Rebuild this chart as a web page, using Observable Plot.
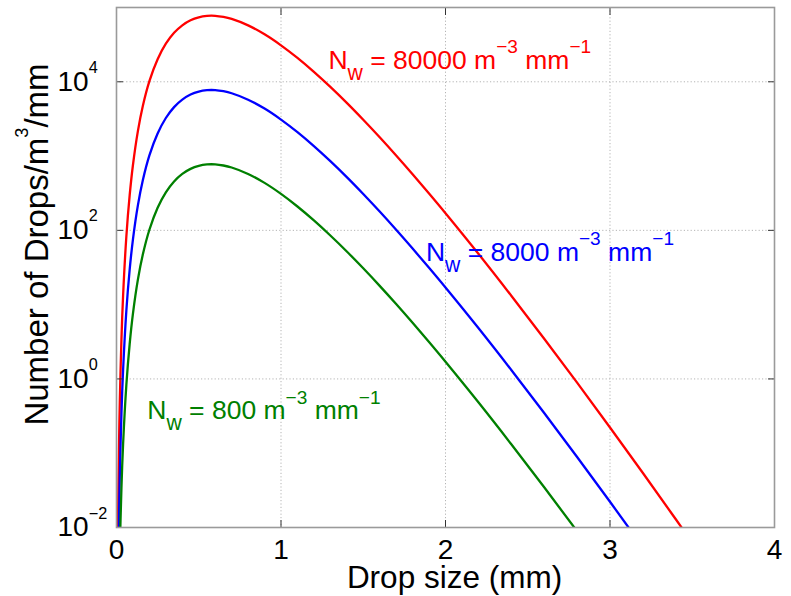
<!DOCTYPE html>
<html>
<head>
<meta charset="utf-8">
<script src="https://cdn.jsdelivr.net/npm/d3@7"></script>
<script src="https://cdn.jsdelivr.net/npm/@observablehq/plot@0.6"></script>
<style>
  html, body { margin: 0; padding: 0; background: #fff; }
</style>
</head>
<body>
<div id="chart"></div>
<script>
// ---- data ----
const dropSize = [0.005, 0.01, 0.015, 0.02, 0.03, 0.04, 0.06, 0.08, 0.1, 0.13, 0.16, 0.2, 0.25, 0.3, 0.35, 0.4, 0.45, 0.5, 0.55, 0.6, 0.65, 0.7, 0.8, 0.9, 1.0, 1.1, 1.2, 1.3, 1.4, 1.5, 1.6, 1.7, 1.8, 1.9, 2.0, 2.2, 2.4, 2.6, 2.8, 3.0, 3.2, 3.4, 3.6];
const nw80000 = [5.4e-4, 0.0165, 0.120, 0.485, 3.38, 13.1, 83.4, 295, 758, 2170, 4720, 10190, 20150, 32540, 45600, 57550, 67260, 73840, 77090, 77270, 74650, 70150, 57440, 43550, 30970, 20960, 13610, 8530, 5200, 3083, 1790, 1018, 569, 313, 170, 48.4, 13.2, 3.48, 0.891, 0.222, 0.0542, 0.0129, 0.00304];
const nw8000 = [5.4e-5, 0.00165, 0.0120, 0.0485, 0.338, 1.31, 8.34, 29.5, 75.8, 217, 472, 1019, 2015, 3254, 4560, 5755, 6726, 7384, 7709, 7727, 7465, 7015, 5744, 4355, 3097, 2096, 1361, 853, 520, 308.3, 179, 101.8, 56.9, 31.3, 17.0, 4.84, 1.32, 0.348, 0.0891, 0.0222, 0.00542, 0.00129, 0.000304];
const nw800 = [5.4e-6, 0.000165, 0.00120, 0.00485, 0.0338, 0.131, 0.834, 2.95, 7.58, 21.7, 47.2, 101.9, 201.5, 325.4, 456, 575.5, 672.6, 738.4, 770.9, 772.7, 746.5, 701.5, 574.4, 435.5, 309.7, 209.6, 136.1, 85.3, 52.0, 30.83, 17.9, 10.18, 5.69, 3.13, 1.70, 0.484, 0.132, 0.0348, 0.00891, 0.00222, 0.000542, 0.000129, 0.0000304];

const seriesNames = ["Nw80000", "Nw8000", "Nw800"];
const seriesColors = ["#ff0000", "#0000ff", "#008000"];
const seriesValues = [nw80000, nw8000, nw800];

const labelTexts = ["N_{w} = 80000 m^{−3} mm^{−1}", "N_{w} = 8000 m^{−3} mm^{−1}", "N_{w} = 800 m^{−3} mm^{−1}"];
const labelDrop = [1.288, 1.881, 0.187];
const labelCount = [14960, 39.0, 0.288];

const xTicks = [0, 1, 2, 3, 4];
const xGrid = [1, 2, 3];
const yTicks = [1e-2, 1, 1e2, 1e4];
const yExponents = ["−2", "0", "2", "4"];
const yGrid = [1, 1e2, 1e4];
const xTitle = "Drop size (mm)";
const yTitle = "Number of Drops/m^{3}/mm";

// ---- tables built from the arrays ----
const rows = seriesNames.flatMap((s, i) => dropSize.map((d, j) => ({series: s, d, n: seriesValues[i][j]})));
const labels = labelTexts.map((t, i) => ({series: seriesNames[i], text: t, d: labelDrop[i], n: labelCount[i]}));
const yTickRows = yTicks.map((v, i) => ({v, text: "10^{" + yExponents[i] + "}"}));

const font = '"Liberation Sans", Arial, Helvetica, sans-serif';
const tickStroke = "#333";

const plot = Plot.plot({
  width: 791,
  height: 596,
  marginLeft: 116,
  marginRight: 17,
  marginTop: 7,
  marginBottom: 69,
  style: {fontFamily: font, background: "#fff", color: "#000", overflow: "visible"},
  x: {domain: [0, 4]},
  y: {type: "log", domain: [1e-2, 1e5]},
  color: {domain: seriesNames, range: seriesColors},
  marks: [
    Plot.ruleX(xGrid, {x: d => d, stroke: "#b4b4b4", strokeWidth: 1, strokeDasharray: "1.2,2.2"}),
    Plot.ruleY(yGrid, {y: d => d, stroke: "#b4b4b4", strokeWidth: 1, strokeDasharray: "1.2,2.2"}),
    Plot.line(rows, {x: "d", y: "n", z: "series", stroke: "series", strokeWidth: 2.3, curve: "catmull-rom", clip: true}),
    Plot.axisX(xTicks, {anchor: "bottom", tickSize: -7, tickFormat: () => "", label: null, stroke: tickStroke}),
    Plot.axisX(xTicks, {anchor: "top", tickSize: -7, tickFormat: () => "", label: null, stroke: tickStroke}),
    Plot.axisY(yTicks, {anchor: "left", tickSize: -7, tickFormat: () => "", label: null, stroke: tickStroke}),
    Plot.axisY(yTicks, {anchor: "right", tickSize: -7, tickFormat: () => "", label: null, stroke: tickStroke}),
    Plot.frame({stroke: "#9a9a9a", strokeWidth: 1.6}),
    Plot.text(xTicks, {x: d => d, text: d => String(d), frameAnchor: "bottom", lineAnchor: "top", dy: 12, fontSize: 28, fill: "#000"}),
    Plot.text(yTickRows, {y: "v", text: "text", frameAnchor: "left", textAnchor: "start", dx: -59, fontSize: 28, fill: "#000"}),
    Plot.text([xTitle], {text: d => d, frameAnchor: "bottom", textAnchor: "middle", lineAnchor: "bottom", dx: 9, dy: 60, fontSize: 31.5, fill: "#000"}),
    Plot.text([yTitle], {text: d => d, frameAnchor: "left", textAnchor: "middle", rotate: -90, lineAnchor: "bottom", dx: -69, dy: -23, fontSize: 33, fill: "#000"}),
    Plot.text(labels, {x: "d", y: "n", text: "text", fill: "series", textAnchor: "start", lineAnchor: "bottom", fontSize: 26.5})
  ]
});

document.getElementById("chart").appendChild(plot);

// turn ^{..} / _{..} markers into real superscript / subscript tspans
function richify(t, o) {
  const s = t.textContent;
  const fs = parseFloat(getComputedStyle(t).fontSize);
  const re = /([\^_])\{([^}]*)\}|([^\^_]+)/g;
  let m, cur = 0;
  t.textContent = "";
  while ((m = re.exec(s))) {
    const ts = document.createElementNS("http://www.w3.org/2000/svg", "tspan");
    let target = 0, size = fs, txt;
    if (m[1] === "^") { target = -o.rise * fs; size = o.supScale * fs; txt = m[2]; }
    else if (m[1] === "_") { target = o.drop * fs; size = o.subScale * fs; txt = m[2]; }
    else { txt = m[3]; }
    ts.setAttribute("dy", (target - cur).toFixed(2));
    ts.setAttribute("font-size", size.toFixed(2));
    ts.textContent = txt;
    cur = target;
    t.appendChild(ts);
  }
}
plot.querySelectorAll("text").forEach(t => {
  const s = t.textContent;
  if (!/[\^_]\{/.test(s)) return;
  if (s.startsWith("10^{")) richify(t, {rise: 0.64, supScale: 0.58});
  else if (s.startsWith("N_{")) richify(t, {rise: 0.58, supScale: 0.72, drop: 0.42, subScale: 0.8});
  else richify(t, {rise: 0.6, supScale: 0.55});
});
</script>
</body>
</html>
